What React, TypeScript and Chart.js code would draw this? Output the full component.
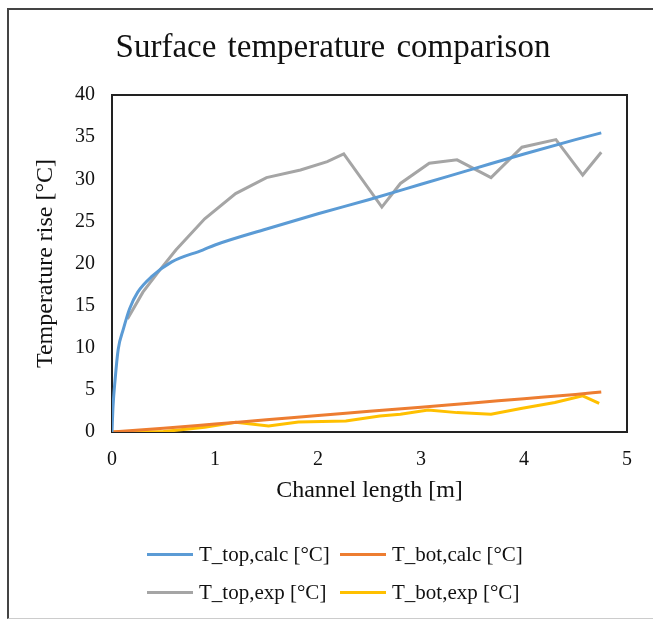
import React, { useEffect, useRef } from "react";
import { Chart, registerables } from "chart.js";

Chart.register(...registerables);

const FONT = "'Liberation Serif', 'Times New Roman', serif";

const chartTitle = "Surface temperature comparison";
const xAxisTitle = "Channel length [m]";
const yAxisTitle = "Temperature rise [°C]";
const seriesNames = ["T_top,calc [°C]", "T_bot,calc [°C]", "T_top,exp [°C]", "T_bot,exp [°C]"];
const seriesColors = ["#5B9BD5", "#ED7D31", "#A5A5A5", "#FFC000"];

const topCalcX = [0, 0.01, 0.03, 0.06, 0.11, 0.17, 0.25, 0.39, 0.58, 0.88, 1.0, 1.5, 2.0, 2.5, 3.0, 3.5, 4.0, 4.5, 4.75];
const topCalcY = [0, 3.0, 6.2, 9.8, 12.2, 14.6, 16.6, 18.5, 20.2, 21.6, 22.2, 24.1, 25.9, 27.6, 29.4, 31.2, 33.0, 34.7, 35.5];

const botCalcX = [0, 0.5, 1, 1.5, 2, 2.5, 3, 3.5, 4, 4.5, 4.75];
const botCalcY = [0, 0.45, 0.95, 1.45, 1.95, 2.45, 2.95, 3.45, 3.95, 4.45, 4.75];

const topExpX = [0.15, 0.3, 0.45, 0.62, 0.9, 1.2, 1.5, 1.83, 2.09, 2.25, 2.62, 2.8, 3.08, 3.35, 3.68, 3.98, 4.31, 4.57, 4.75];
const topExpY = [13.4, 16.6, 19.0, 21.6, 25.3, 28.3, 30.2, 31.1, 32.1, 33.0, 26.7, 29.5, 31.9, 32.3, 30.2, 33.8, 34.7, 30.5, 33.2];

const botExpX = [0, 0.5, 0.9, 1.2, 1.52, 1.81, 2.27, 2.6, 2.8, 3.07, 3.35, 3.68, 3.97, 4.3, 4.57, 4.73];
const botExpY = [0, 0.05, 0.55, 1.15, 0.7, 1.2, 1.3, 1.9, 2.1, 2.6, 2.3, 2.1, 2.8, 3.5, 4.3, 3.4];

const xTicks = [0, 1, 2, 3, 4, 5];
const yTicks = [0, 5, 10, 15, 20, 25, 30, 35, 40];

const toPoints = (xs: number[], ys: number[]) => xs.map((x, i) => ({ x, y: ys[i] }));

const plotBorder = {
  id: "plotBorder",
  beforeDatasetsDraw(chart: any) {
    const { ctx, chartArea } = chart;
    ctx.save();
    ctx.strokeStyle = "#222";
    ctx.lineWidth = 2;
    ctx.strokeRect(chartArea.left, chartArea.top, chartArea.right - chartArea.left, chartArea.bottom - chartArea.top);
    ctx.restore();
  },
};

export default function App() {
  const ref = useRef<HTMLCanvasElement | null>(null);

  useEffect(() => {
    if (!ref.current) return;
    const series = [
      { xs: topCalcX, ys: topCalcY, smooth: true },
      { xs: botCalcX, ys: botCalcY, smooth: true },
      { xs: topExpX, ys: topExpY, smooth: false },
      { xs: botExpX, ys: botExpY, smooth: false },
    ];
    const chart = new Chart(ref.current, {
      type: "line",
      data: {
        datasets: series.map((s, i) => ({
          label: seriesNames[i],
          data: toPoints(s.xs, s.ys),
          borderColor: seriesColors[i],
          backgroundColor: seriesColors[i],
          borderWidth: 3,
          pointRadius: 0,
          fill: false,
          tension: 0,
          cubicInterpolationMode: s.smooth ? "monotone" : "default",
        })) as any,
      },
      options: {
        animation: false,
        responsive: false,
        maintainAspectRatio: false,
        layout: { padding: { left: 0, right: 26, top: 95, bottom: 108 } },
        plugins: {
          legend: { display: false },
          tooltip: { enabled: false },
          title: { display: false },
        },
        scales: {
          x: {
            type: "linear",
            min: 0,
            max: 5,
            afterFit: (s: any) => { s.height = 80; },
            afterBuildTicks: (s: any) => { s.ticks = xTicks.map((v) => ({ value: v })); },
            grid: { display: false, drawTicks: false },
            border: { display: false },
            ticks: { color: "#111", font: { family: FONT, size: 20 }, padding: 16 },
            title: {
              display: true,
              text: xAxisTitle,
              color: "#111",
              font: { family: FONT, size: 24 },
              padding: { top: 0, bottom: 7 },
            },
          },
          y: {
            type: "linear",
            min: 0,
            max: 40,
            afterFit: (s: any) => { s.width = 112; },
            afterBuildTicks: (s: any) => { s.ticks = yTicks.map((v) => ({ value: v })); },
            grid: { display: false, drawTicks: false },
            border: { display: false },
            ticks: { color: "#111", font: { family: FONT, size: 20 }, padding: 17 },
            title: {
              display: true,
              text: yAxisTitle,
              color: "#111",
              font: { family: FONT, size: 24 },
              padding: { top: 31, bottom: 0 },
            },
          },
        },
      } as any,
      plugins: [plotBorder],
    });
    return () => chart.destroy();
  }, []);

  const legendRows = [
    [0, 1],
    [2, 3],
  ];

  return (
    <div style={{ position: "fixed", left: 0, top: 0, width: 653, height: 620, background: "#fff", overflow: "hidden" }}>
      <div style={{ position: "absolute", left: 7, top: 8, right: -4, bottom: 1, borderLeft: "2px solid #444", borderTop: "2px solid #444", borderBottom: "1px solid #ccc" }} />
      <canvas ref={ref} width={653} height={620} style={{ position: "absolute", left: 0, top: 0, width: 653, height: 620 }} />
      <div style={{ position: "absolute", left: 0, width: 666, top: 26, height: 40, lineHeight: "40px", textAlign: "center", fontFamily: FONT, fontSize: 33, color: "#111", whiteSpace: "nowrap", wordSpacing: 3 }}>
        {chartTitle}
      </div>
      {legendRows.map((row, r) => (
        <div key={r} style={{ position: "absolute", top: 541 + r * 38, left: 147, height: 26 }}>
          {row.map((i, c) => (
            <div key={i} style={{ display: "flex", alignItems: "center", position: "absolute", left: c * 193, top: 0, height: 26, whiteSpace: "nowrap" }}>
              <span style={{ display: "inline-block", width: 46, height: 3, background: seriesColors[i], marginRight: 6 }} />
              <span style={{ fontFamily: FONT, fontSize: 21, color: "#111", lineHeight: "26px" }}>{seriesNames[i]}</span>
            </div>
          ))}
        </div>
      ))}
    </div>
  );
}
